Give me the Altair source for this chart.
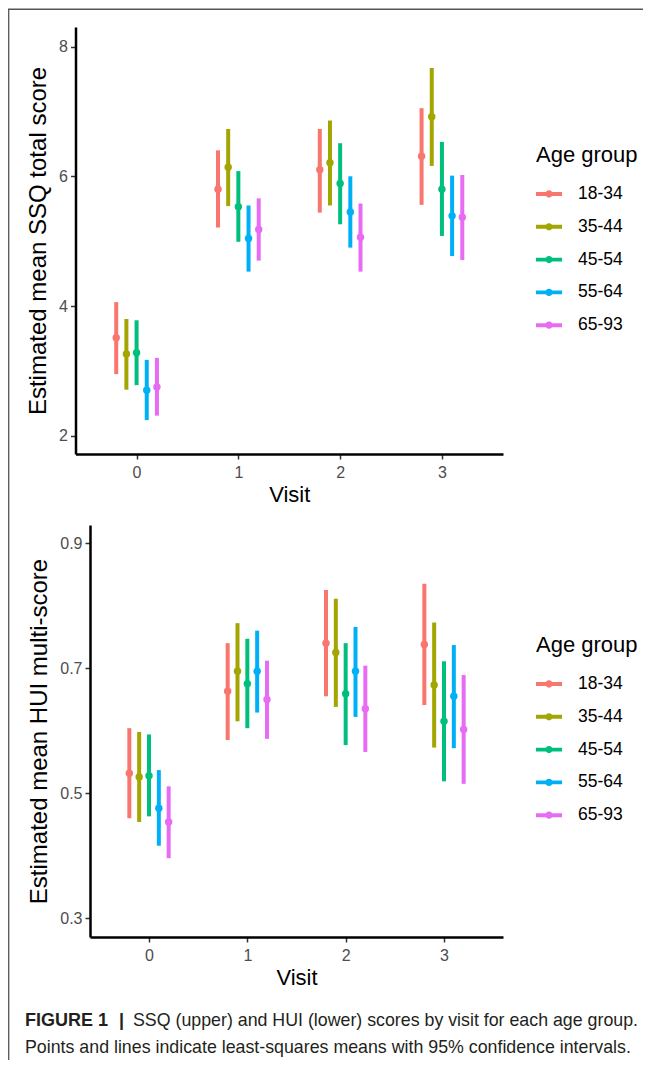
import json
import altair as alt
import pandas as pd

visits = [0, 1, 2, 3]
groups = ["18-34", "35-44", "45-54", "55-64", "65-93"]
colors = ["#F8766D", "#A3A500", "#00BF7D", "#00B0F6", "#E76BF3"]

ssq_mean = {
    "18-34": [3.51, 5.80, 6.10, 6.31],
    "35-44": [3.26, 6.14, 6.21, 6.92],
    "45-54": [3.28, 5.53, 5.89, 5.80],
    "55-64": [2.70, 5.04, 5.45, 5.39],
    "65-93": [2.75, 5.18, 5.06, 5.37],
}
ssq_lo = {
    "18-34": [2.95, 5.21, 5.44, 5.56],
    "35-44": [2.71, 5.54, 5.55, 6.16],
    "45-54": [2.78, 4.99, 5.26, 5.08],
    "55-64": [2.24, 4.53, 4.90, 4.77],
    "65-93": [2.31, 4.70, 4.53, 4.71],
}
ssq_hi = {
    "18-34": [4.06, 6.40, 6.73, 7.05],
    "35-44": [3.80, 6.73, 6.86, 7.67],
    "45-54": [3.78, 6.08, 6.51, 6.53],
    "55-64": [3.17, 5.55, 6.00, 6.01],
    "65-93": [3.20, 5.66, 5.58, 6.02],
}

hui_mean = {
    "18-34": [0.532, 0.663, 0.740, 0.738],
    "35-44": [0.526, 0.695, 0.725, 0.673],
    "45-54": [0.528, 0.675, 0.659, 0.615],
    "55-64": [0.476, 0.695, 0.695, 0.655],
    "65-93": [0.454, 0.650, 0.635, 0.602],
}
hui_lo = {
    "18-34": [0.460, 0.585, 0.655, 0.641],
    "35-44": [0.454, 0.615, 0.638, 0.573],
    "45-54": [0.463, 0.604, 0.577, 0.519],
    "55-64": [0.416, 0.629, 0.622, 0.572],
    "65-93": [0.396, 0.587, 0.566, 0.515],
}
hui_hi = {
    "18-34": [0.604, 0.740, 0.825, 0.835],
    "35-44": [0.598, 0.772, 0.811, 0.773],
    "45-54": [0.594, 0.747, 0.740, 0.711],
    "55-64": [0.537, 0.760, 0.766, 0.737],
    "65-93": [0.511, 0.712, 0.704, 0.689],
}

ssq_ticks = [2, 4, 6, 8]
hui_ticks = [0.3, 0.5, 0.7, 0.9]
ssq_title = "Estimated mean SSQ total score"
hui_title = "Estimated mean HUI multi-score"
x_title = "Visit"
legend_title = "Age group"
caption_bold = ["FIGURE 1"]
caption_bar = ["|"]
caption_line1 = ["SSQ (upper) and HUI (lower) scores by visit for each age group."]
caption_line2 = ["Points and lines indicate least-squares means with 95% confidence intervals."]

FONT = "Liberation Sans"
W, H = 635, 1052
H_AXIS_TOP = 446
H_AXIS_BOT = 929


def make_df(mean, lo, hi):
    rows = []
    for g in groups:
        for i, v in enumerate(visits):
            rows.append({"visit": v, "group": g, "mean": mean[g][i],
                         "lo": lo[g][i], "hi": hi[g][i]})
    return pd.DataFrame(rows)


LEGEND_PATH = ("M-1,-0.15L1,-0.15L1,0.15L-1,0.15Z"
               "M0.28,0A0.28,0.28,0,1,1,-0.28,0A0.28,0.28,0,1,1,0.28,0Z")


def panel(df, ydomain, yrange, xrange, xoff, yoff, ytitle, yticks, yfmt, legy):
    base = alt.Chart(df).transform_calculate(
        xpos="datum.visit + (indexof(%s, datum.group) - 2) * 0.1" % json.dumps(groups)
    )
    xscale = alt.Scale(domain=[-0.6, 3.6], range=xrange, nice=False, zero=False)
    yscale = alt.Scale(domain=ydomain, range=yrange, nice=False, zero=False)
    xaxis = alt.Axis(orient="bottom", offset=xoff, values=visits, format="d",
                     title=x_title, grid=False, labelPadding=5, titlePadding=4)
    yaxis = alt.Axis(orient="left", offset=yoff, values=yticks, format=yfmt,
                     title=ytitle, grid=False, labelPadding=3, titlePadding=8,
                     titleFontSize=24)
    cscale = alt.Scale(domain=groups, range=colors)
    pts = base.mark_circle(size=55, opacity=1).encode(
        x=alt.X("xpos:Q", scale=xscale, axis=xaxis),
        y=alt.Y("mean:Q", scale=yscale, axis=yaxis),
        color=alt.Color("group:N", scale=cscale, legend=alt.Legend(
            title=legend_title, orient="none", legendX=528, legendY=legy,
            symbolType=LEGEND_PATH, symbolSize=676, symbolStrokeWidth=0,
            symbolOpacity=1, rowPadding=10.8, titlePadding=14, labelOffset=16,
        )),
    )
    rules = base.mark_rule(strokeWidth=4).encode(
        x=alt.X("xpos:Q", scale=xscale, axis=xaxis),
        y=alt.Y("lo:Q", scale=yscale, axis=yaxis),
        y2="hi:Q",
        color=alt.Color("group:N", scale=cscale, legend=None),
    )
    return alt.layer(pts, rules)


top = panel(make_df(ssq_mean, ssq_lo, ssq_hi), [1.718, 8.302], [H_AXIS_TOP, 19],
            [67.5, 495], H_AXIS_TOP - H, -67.5, ssq_title, ssq_ticks, "d", 137)
bottom = panel(make_df(hui_mean, hui_lo, hui_hi), [0.27, 0.929], [H_AXIS_BOT, 517],
               [82, 495], H_AXIS_BOT - H, -82, hui_title, hui_ticks, ".1f", 627)

dummy = pd.DataFrame({"a": [0]})
border_left = alt.Chart(dummy).mark_rule(color="#555555", strokeWidth=1.3).encode(
    x=alt.value(0.7), y=alt.value(1), y2=alt.value(H + 10))
border_top = alt.Chart(dummy).mark_rule(color="#555555", strokeWidth=1.6).encode(
    x=alt.value(0), x2=alt.value(W + 10), y=alt.value(1.3))


def text_layer(lines, x, y, bold=False, size=18):
    return alt.Chart(pd.DataFrame({"t": lines})).mark_text(
        align="left", baseline="alphabetic", font=FONT, fontSize=size,
        fontWeight="bold" if bold else "normal", color="#231F20",
    ).encode(text="t:N", x=alt.value(x), y=alt.value(y))


cap1 = text_layer(caption_bold, 17, 1018, bold=True)
cap2 = text_layer(caption_bar, 111, 1018, bold=True)
cap3 = text_layer(caption_line1, 125, 1018, size=17.8)
cap4 = text_layer(caption_line2, 17, 1045, size=17.8)

chart = alt.layer(top, bottom, border_left, border_top, cap1, cap2, cap3, cap4).resolve_scale(
    x="independent", y="independent", color="independent"
).properties(
    width=W, height=H, autosize=alt.AutoSizeParams(type="none"), padding=0,
    background="white",
).configure_view(stroke=None).configure_axis(
    labelFont=FONT, labelFontSize=16, labelColor="#4D4D4D",
    titleFont=FONT, titleFontSize=22, titleColor="black", titleFontWeight="normal",
    domainColor="black", domainWidth=2.5, tickColor="#333333", tickWidth=1.5,
    tickSize=5,
).configure_legend(
    titleFont=FONT, titleFontSize=22, titleFontWeight="normal", titleColor="black",
    labelFont=FONT, labelFontSize=17.5, labelColor="black",
)

chart.save("out.html", embed_options={"renderer": "svg", "actions": False})
